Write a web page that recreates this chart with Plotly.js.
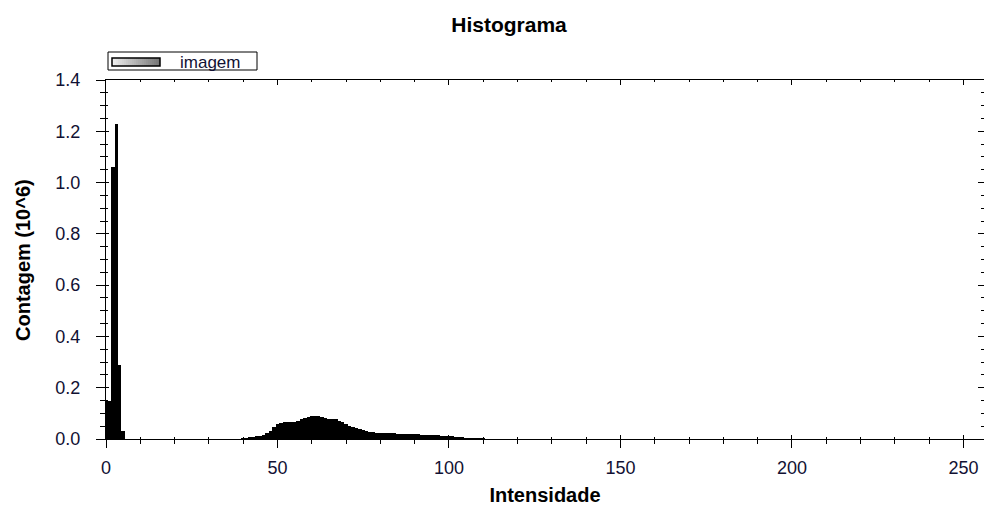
<!DOCTYPE html>
<html>
<head>
<meta charset="utf-8">
<script src="https://cdn.plot.ly/plotly-3.0.1.min.js"></script>
<style>html,body{margin:0;padding:0;background:#fff;}#chart{width:984px;height:506px;}</style>
</head>
<body>
<div id="chart"></div>
<script>
// Histogram bins (intensity) and counts in millions (10^6)
const intensidade = [0, 1, 2, 3, 4, 5,
  40, 41, 42, 43, 44, 45, 46, 47, 48, 49,
  50, 51, 52, 53, 54, 55, 56, 57, 58, 59,
  60, 61, 62, 63, 64, 65, 66, 67, 68, 69,
  70, 71, 72, 73, 74, 75, 76, 77, 78, 79,
  80, 81, 82, 83, 84, 85, 86, 87, 88, 89,
  90, 91, 92, 93, 94, 95, 96, 97, 98, 99,
  100, 101, 102, 103, 104, 105, 106, 107, 108, 109, 110];
const contagem = [0.15, 0.15, 1.06, 1.23, 0.29, 0.03,
  0.004, 0.005, 0.006, 0.008, 0.010, 0.012, 0.016, 0.022, 0.032, 0.045,
  0.058, 0.063, 0.065, 0.066, 0.066, 0.068, 0.072, 0.077, 0.082, 0.087,
  0.090, 0.089, 0.088, 0.084, 0.080, 0.079, 0.079, 0.077, 0.072, 0.065,
  0.057, 0.050, 0.046, 0.043, 0.039, 0.036, 0.033, 0.029, 0.026, 0.025,
  0.024, 0.023, 0.023, 0.022, 0.022, 0.021, 0.021, 0.021, 0.020, 0.020,
  0.020, 0.019, 0.017, 0.016, 0.015, 0.015, 0.014, 0.014, 0.013, 0.012,
  0.011, 0.010, 0.008, 0.007, 0.006, 0.005, 0.005, 0.004, 0.004, 0.003, 0.003];
const xTicks = [0, 50, 100, 150, 200, 250];
const yTicks = [0.0, 0.2, 0.4, 0.6, 0.8, 1.0, 1.2, 1.4];
const serieNome = 'imagem';

const M = {l: 106, r: 0, t: 80, b: 67};
const W = 984, H = 506;
const PW = W - M.l - M.r, PH = H - M.t - M.b;
const px = x => (x - M.l) / PW;
const py = y => (H - M.b - y) / PH;

const FONT = 'Liberation Sans, Arial, sans-serif';
const tickFont = {family: FONT, size: 18, color: '#111133'};
const titleFont = {family: FONT, size: 20, color: '#000'};

const traces = [
  {type: 'bar', x: intensidade, y: contagem, name: serieNome, width: 1,
   marker: {color: '#000', line: {width: 0}}, showlegend: false, hoverinfo: 'x+y'},
  {type: 'scatter', x: [], y: [], xaxis: 'x2', yaxis: 'y2', showlegend: false},
  {type: 'scatter', x: [], y: [], xaxis: 'x3', yaxis: 'y3', showlegend: false}
];

const xBase = {range: [0, 256], showgrid: false, zeroline: false, tickvals: xTicks,
  linecolor: '#000', tickcolor: '#000', fixedrange: true};
const yBase = {range: [0, 1.4], showgrid: false, zeroline: false, tickvals: yTicks,
  linecolor: '#000', tickcolor: '#000', fixedrange: true};

// legend drawn as shapes
const shapes = [
  {type: 'rect', xref: 'paper', yref: 'paper', x0: px(108), x1: px(257), y0: py(52), y1: py(70),
   line: {color: '#000', width: 1}, fillcolor: '#fff', layer: 'above'}
];
const sw0 = 112, sw1 = 160, nStrips = 24;
for (let i = 0; i < nStrips; i++) {
  const t = i / (nStrips - 1);
  const g = Math.round(238 - t * 120);
  const c = 'rgb(' + g + ',' + g + ',' + g + ')';
  shapes.push({type: 'rect', xref: 'paper', yref: 'paper',
    x0: px(sw0 + (sw1 - sw0) * i / nStrips), x1: px(sw0 + (sw1 - sw0) * (i + 1) / nStrips),
    y0: py(58), y1: py(66), line: {width: 0}, fillcolor: c, layer: 'above'});
}
shapes.push({type: 'rect', xref: 'paper', yref: 'paper', x0: px(sw0), x1: px(sw1), y0: py(58), y1: py(66),
  line: {color: '#000', width: 1.5}, fillcolor: 'rgba(0,0,0,0)', layer: 'above'});

const layout = {
  width: W, height: H, margin: M,
  paper_bgcolor: '#fff', plot_bgcolor: '#fff',
  bargap: 0, showlegend: false,
  font: {family: FONT, color: '#000'},
  title: {text: '<b>Histograma</b>', font: {family: FONT, size: 21, color: '#000'},
          x: 509 / W, xref: 'container', xanchor: 'center', y: 1 - 25 / H, yref: 'container', yanchor: 'middle'},
  xaxis: Object.assign({}, xBase, {anchor: 'y', side: 'bottom', showline: true, linewidth: 1,
    ticks: 'outside', ticklen: 8, tickwidth: 1, tickfont: tickFont, ticklabelstandoff: 4,
    minor: {dtick: 10, tick0: 0, ticks: 'outside', ticklen: 4, tickcolor: '#000', showgrid: false},
    title: {text: '<b>Intensidade</b>', font: titleFont, standoff: 11}}),
  xaxis2: Object.assign({}, xBase, {overlaying: 'x', anchor: 'y2', side: 'bottom', showline: false,
    ticks: 'inside', ticklen: 4, showticklabels: false,
    minor: {dtick: 10, tick0: 0, ticks: 'inside', ticklen: 2, tickcolor: '#000', showgrid: false}}),
  xaxis3: Object.assign({}, xBase, {overlaying: 'x', anchor: 'y3', side: 'top', showline: true, linewidth: 1,
    ticks: 'inside', ticklen: 5, showticklabels: false,
    minor: {dtick: 10, tick0: 0, ticks: 'inside', ticklen: 2, tickcolor: '#000', showgrid: false}}),
  yaxis: Object.assign({}, yBase, {anchor: 'x', side: 'left', showline: true, linewidth: 1,
    ticks: 'outside', ticklen: 9, tickfont: tickFont, tickformat: '.1f', ticklabelstandoff: 12,
    minor: {dtick: 0.05, tick0: 0, ticks: 'outside', ticklen: 5, tickcolor: '#000', showgrid: false}}),
  yaxis2: Object.assign({}, yBase, {overlaying: 'y', anchor: 'x2', side: 'left', showline: false,
    ticks: 'inside', ticklen: 3, showticklabels: false,
    minor: {dtick: 0.05, tick0: 0, ticks: 'inside', ticklen: 2, tickcolor: '#000', showgrid: false}}),
  yaxis3: Object.assign({}, yBase, {overlaying: 'y', anchor: 'x3', side: 'right', showline: true, linewidth: 1,
    ticks: 'inside', ticklen: 6, showticklabels: false,
    minor: {dtick: 0.05, tick0: 0, ticks: 'inside', ticklen: 3, tickcolor: '#000', showgrid: false}}),
  shapes: shapes,
  annotations: [
    {text: serieNome, xref: 'paper', yref: 'paper', x: px(178), y: py(62), xanchor: 'left', yanchor: 'middle',
     showarrow: false, font: {family: FONT, size: 17, color: '#111133'}},
    {text: '<b>Contagem (10^6)</b>', xref: 'paper', yref: 'paper', x: px(23), y: py(260), textangle: -90,
     xanchor: 'center', yanchor: 'middle', showarrow: false, font: titleFont}
  ]
};

Plotly.newPlot('chart', traces, layout, {displayModeBar: false, staticPlot: true});
</script>
</body>
</html>
